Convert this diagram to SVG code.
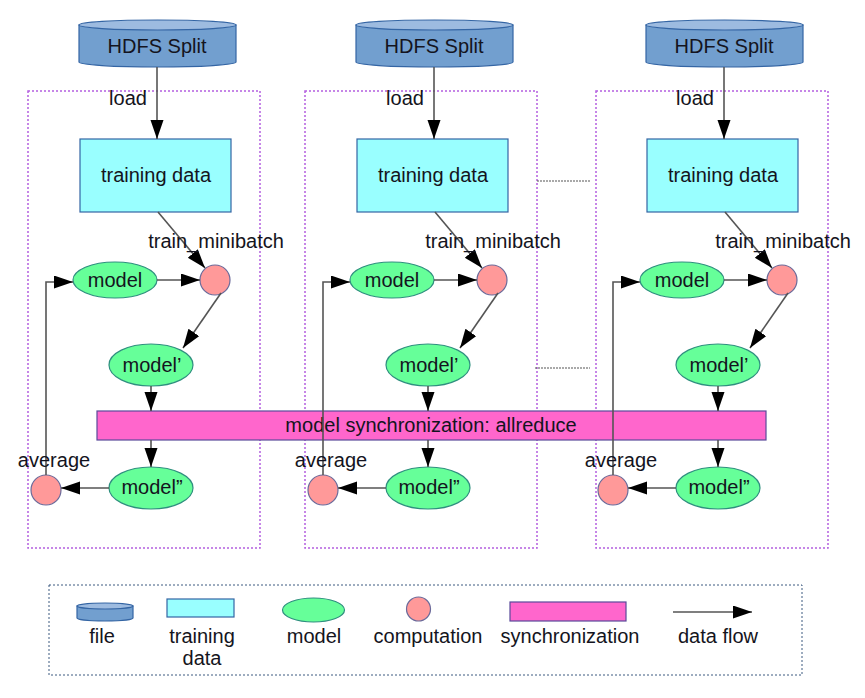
<svg xmlns="http://www.w3.org/2000/svg" width="865" height="698" viewBox="0 0 865 698">
<defs>
<style>
text{font-family:"Liberation Sans",Arial,sans-serif;font-size:20px;fill:#141420;text-anchor:middle}
.cyl{fill:#729fcf;stroke:#3465a4;stroke-width:1.2}
.cyltop{fill:#9dbbe0;stroke:#3465a4;stroke-width:1.2}
.td{fill:#99ffff;stroke:#3465a4;stroke-width:1.2}
.mdl{fill:#66ff99;stroke:#2f8f7f;stroke-width:1.2}
.cmp{fill:#ff9999;stroke:#6a6a9a;stroke-width:1.2}
.sync{fill:#ff66cc;stroke:#5a4a9a;stroke-width:1.2}
.frame{fill:none;stroke:#b45fe0;stroke-width:1.5;stroke-dasharray:2 2}
.legend{fill:none;stroke:#3d5a80;stroke-width:1;stroke-dasharray:2 2}
.flow{fill:none;stroke:#555;stroke-width:1.6}
.flowa{fill:none;stroke:#555;stroke-width:1.6;marker-end:url(#ah)}
.dots{fill:none;stroke:#555;stroke-width:1.2;stroke-dasharray:2 1}
</style>
<marker id="ah" markerUnits="userSpaceOnUse" markerWidth="20" markerHeight="14" refX="19" refY="6.5" orient="auto">
<path d="M0,0 L19,6.5 L0,13 Z" fill="#000"/>
</marker>
</defs>

<!-- frames -->
<g id="frame1"><rect class="frame" x="28" y="91" width="232" height="457"/></g>
<g id="frame2"><rect class="frame" x="305" y="91" width="232" height="457"/></g>
<g id="frame3"><rect class="frame" x="596" y="91" width="232" height="457"/></g>

<!-- sync bar -->
<g id="sync"><rect class="sync" x="97" y="411" width="669" height="29"/><text x="431" y="432">model synchronization: allreduce</text></g>

<!-- column 1 -->
<g id="split1"><path class="cyl" d="M79,25 V62 A78.5,5 0 0 0 236,62 V25 Z"/><ellipse class="cyltop" cx="157.5" cy="25" rx="78.5" ry="5"/><text x="157" y="53">HDFS Split</text></g>
<g id="train1"><rect class="td" x="80" y="139" width="151" height="73"/><text x="156" y="182">training data</text></g>
<g id="model1"><ellipse class="mdl" cx="115" cy="280" rx="42" ry="18"/><text x="115" y="287">model</text></g>
<g id="comp1"><circle class="cmp" cx="215" cy="280" r="15"/></g>
<g id="modelp1"><ellipse class="mdl" cx="151" cy="365" rx="42" ry="21"/><text x="152" y="372">model’</text></g>
<g id="modelpp1"><ellipse class="mdl" cx="151" cy="488" rx="42" ry="21"/><text x="152" y="494">model”</text></g>
<g id="avg1"><circle class="cmp" cx="46" cy="490" r="15"/></g>

<!-- column 2 -->
<g id="split2"><path class="cyl" d="M356,25 V62 A78.5,5 0 0 0 513,62 V25 Z"/><ellipse class="cyltop" cx="434.5" cy="25" rx="78.5" ry="5"/><text x="434" y="53">HDFS Split</text></g>
<g id="train2"><rect class="td" x="357" y="139" width="151" height="73"/><text x="433" y="182">training data</text></g>
<g id="model2"><ellipse class="mdl" cx="392" cy="280" rx="42" ry="18"/><text x="392" y="287">model</text></g>
<g id="comp2"><circle class="cmp" cx="492" cy="280" r="15"/></g>
<g id="modelp2"><ellipse class="mdl" cx="428" cy="365" rx="42" ry="21"/><text x="429" y="372">model’</text></g>
<g id="modelpp2"><ellipse class="mdl" cx="428" cy="488" rx="42" ry="21"/><text x="429" y="494">model”</text></g>
<g id="avg2"><circle class="cmp" cx="323" cy="490" r="15"/></g>

<!-- column 3 -->
<g id="split3"><path class="cyl" d="M646,25 V62 A78.5,5 0 0 0 803,62 V25 Z"/><ellipse class="cyltop" cx="724.5" cy="25" rx="78.5" ry="5"/><text x="724" y="53">HDFS Split</text></g>
<g id="train3"><rect class="td" x="647" y="139" width="151" height="73"/><text x="723" y="182">training data</text></g>
<g id="model3"><ellipse class="mdl" cx="682" cy="280" rx="42" ry="18"/><text x="682" y="287">model</text></g>
<g id="comp3"><circle class="cmp" cx="782" cy="280" r="15"/></g>
<g id="modelp3"><ellipse class="mdl" cx="718" cy="365" rx="42" ry="21"/><text x="719" y="372">model’</text></g>
<g id="modelpp3"><ellipse class="mdl" cx="718" cy="488" rx="42" ry="21"/><text x="719" y="494">model”</text></g>
<g id="avg3"><circle class="cmp" cx="613" cy="490" r="15"/></g>

<!-- connectors -->
<g id="connectors">
<path class="flowa" d="M157,67 V139"/>
<path class="flow" d="M158,212 L205,268" marker-end="url(#ah)"/>
<path class="flowa" d="M157,280 H200"/>
<path class="flowa" d="M221,293 L183,348"/>
<path class="flowa" d="M151,386 V411"/>
<path class="flowa" d="M151,440 V467"/>
<path class="flowa" d="M109,488 H61"/>
<path class="flowa" d="M46,475 V282 H73"/>

<path class="flowa" d="M434,67 V139"/>
<path class="flow" d="M435,212 L482,268" marker-end="url(#ah)"/>
<path class="flowa" d="M434,280 H477"/>
<path class="flowa" d="M498,293 L460,348"/>
<path class="flowa" d="M428,386 V411"/>
<path class="flowa" d="M428,440 V467"/>
<path class="flowa" d="M386,488 H338"/>
<path class="flowa" d="M323,475 V282 H350"/>

<path class="flowa" d="M724,67 V139"/>
<path class="flow" d="M725,212 L772,268" marker-end="url(#ah)"/>
<path class="flowa" d="M724,280 H767"/>
<path class="flowa" d="M788,293 L750,348"/>
<path class="flowa" d="M718,386 V411"/>
<path class="flowa" d="M718,440 V467"/>
<path class="flowa" d="M676,488 H628"/>
<path class="flowa" d="M613,475 V282 H640"/>

<path class="dots" d="M537,181 H591"/>
<path class="dots" d="M535,368 H590"/>
</g>

<!-- connector labels -->
<g id="labels">
<text x="128" y="105">load</text>
<text x="216" y="248">train_minibatch</text>
<text x="54" y="467">average</text>
<text x="405" y="105">load</text>
<text x="493" y="248">train_minibatch</text>
<text x="331" y="467">average</text>
<text x="695" y="105">load</text>
<text x="783" y="248">train_minibatch</text>
<text x="621" y="467">average</text>
</g>

<!-- legend -->
<g id="legend">
<rect class="legend" x="49" y="585" width="753" height="90"/>
<g id="lg-file"><path class="cyl" d="M77,606 V618 A28,3 0 0 0 133,618 V606 Z"/><ellipse class="cyltop" cx="105" cy="606" rx="28" ry="3"/><text x="102" y="643">file</text></g>
<g id="lg-train"><rect class="td" x="167" y="599" width="67" height="18"/><text x="202" y="643">training</text><text x="202" y="665">data</text></g>
<g id="lg-model"><ellipse class="mdl" cx="313.5" cy="610" rx="31" ry="12"/><text x="314" y="643">model</text></g>
<g id="lg-comp"><circle class="cmp" cx="418.5" cy="609" r="12"/><text x="428" y="643">computation</text></g>
<g id="lg-sync"><rect class="sync" x="510" y="602" width="116" height="19"/><text x="570" y="643">synchronization</text></g>
<g id="lg-flow"><path class="flowa" d="M673,612 H752"/><text x="718" y="643">data flow</text></g>
</g>
</svg>
